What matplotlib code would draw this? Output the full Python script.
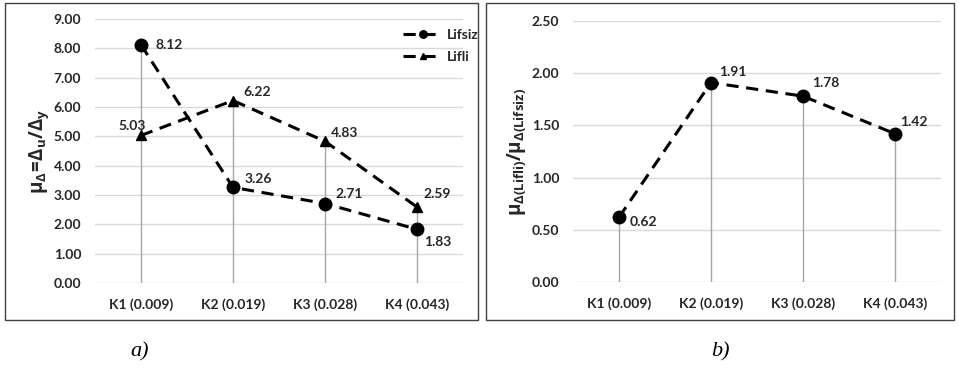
import matplotlib.pyplot as plt
from matplotlib.patches import Rectangle

plt.rcParams['font.family'] = ['Lato', 'DejaVu Sans']
plt.rcParams['mathtext.fontset'] = 'custom'
plt.rcParams['mathtext.rm'] = 'Open Sans'
plt.rcParams['mathtext.bf'] = 'Open Sans:bold'
plt.rcParams['mathtext.it'] = 'Open Sans:bold'

categories = ['K1 (0.009)', 'K2 (0.019)', 'K3 (0.028)', 'K4 (0.043)']
lifsiz = [8.12, 3.26, 2.71, 1.83]
lifli = [5.03, 6.22, 4.83, 2.59]
ratio = [0.62, 1.91, 1.78, 1.42]

# label offsets in pixels (left edge dx, centre dy) for each value
lifsiz_off = [(15, 0), (12, 8), (10, 10), (7, -13)]
lifli_off = [(-23, 9), (10, 9), (6, 8), (6, 13)]
ratio_off = [(11, -5), (8, 11), (9, 13), (5, 12)]

GRID = '#d9d9d9'
DROP = '#a6a6a6'
TXT = '#262626'
FS = 10


def style_axis(ax, ymax, step):
    n = int(round(ymax / step)) + 1
    ax.set_xlim(-0.5, len(categories) - 0.5)
    ax.set_ylim(0, ymax)
    ax.set_yticks([i * step for i in range(n)])
    ax.set_yticklabels([f'{i * step:.2f}' for i in range(n)])
    ax.set_xticks(list(range(len(categories))))
    ax.set_xticklabels(categories)
    ax.yaxis.grid(True, color=GRID, linewidth=1)
    ax.set_axisbelow(True)
    for s in ax.spines.values():
        s.set_visible(False)
    ax.tick_params(length=0, labelsize=FS, labelcolor=TXT)
    ax.tick_params(axis='y', pad=10)
    ax.tick_params(axis='x', pad=11)
    for lab in ax.get_xticklabels() + ax.get_yticklabels():
        lab.set_fontweight('bold')


def label_points(ax, vals, offs):
    for i, (v, (dx, dy)) in enumerate(zip(vals, offs)):
        ax.annotate(f'{v:.2f}', (i, v), xytext=(dx * 0.72, dy * 0.72),
                    textcoords='offset points', ha='left', va='center',
                    fontsize=FS, fontweight='bold', color=TXT)


fig = plt.figure(figsize=(9.59, 3.69), dpi=100)

# panel frames
fig.patches.append(Rectangle((5 / 959, 1 - 320 / 369), 473 / 959, 317 / 369,
                             transform=fig.transFigure, fill=False,
                             edgecolor='#404040', linewidth=1))
fig.patches.append(Rectangle((486 / 959, 1 - 320 / 369), 468 / 959, 317 / 369,
                             transform=fig.transFigure, fill=False,
                             edgecolor='#404040', linewidth=1))

x = list(range(len(categories)))
dash = (0, (4, 2.5))

# a)
ax1 = fig.add_axes([95 / 959, 1 - 283 / 369, 368 / 959, 264 / 369])
style_axis(ax1, 9, 1)
ax1.vlines(x, 0, [max(a, b) for a, b in zip(lifsiz, lifli)], color=DROP, linewidth=1)
ax1.plot(x, lifsiz, color='black', linestyle=dash, linewidth=2.2,
         marker='o', markersize=9, label='Lifsiz')
ax1.plot(x, lifli, color='black', linestyle=dash, linewidth=2.2,
         marker='^', markersize=6.5, label='Lifli')
label_points(ax1, lifsiz, lifsiz_off)
label_points(ax1, lifli, lifli_off)
ax1.set_ylabel(r'$\mathbf{\mu_{\Delta}\!=\!\Delta_u/\Delta_y}$', fontsize=13.5, color=TXT, labelpad=2)
leg = ax1.legend(loc='upper right', frameon=False, fontsize=FS, handlelength=2.8,
                 handletextpad=0.3, markerscale=0.6, bbox_to_anchor=(1.075, 1.01),
                 labelspacing=0.75)
for t in leg.get_texts():
    t.set_fontweight('bold')
    t.set_color(TXT)

# b)
ax2 = fig.add_axes([573 / 959, 1 - 282 / 369, 368 / 959, 261 / 369])
style_axis(ax2, 2.5, 0.5)
ax2.vlines(x, 0, ratio, color=DROP, linewidth=1)
ax2.plot(x, ratio, color='black', linestyle=dash, linewidth=2.2,
         marker='o', markersize=9)
label_points(ax2, ratio, ratio_off)
ax2.set_ylabel(r'$\mathbf{\mu_{\Delta(Lifli)}/\mu_{\Delta(Lifsiz)}}$', fontsize=13.5, color=TXT, labelpad=2)

fig.text(140 / 959, 1 - 352 / 369, 'a)', family='Liberation Serif', style='italic',
         fontsize=16, ha='center', va='center')
fig.text(720 / 959, 1 - 352 / 369, 'b)', family='Liberation Serif', style='italic',
         fontsize=16, ha='center', va='center')

fig.savefig('out.png', dpi=100)
